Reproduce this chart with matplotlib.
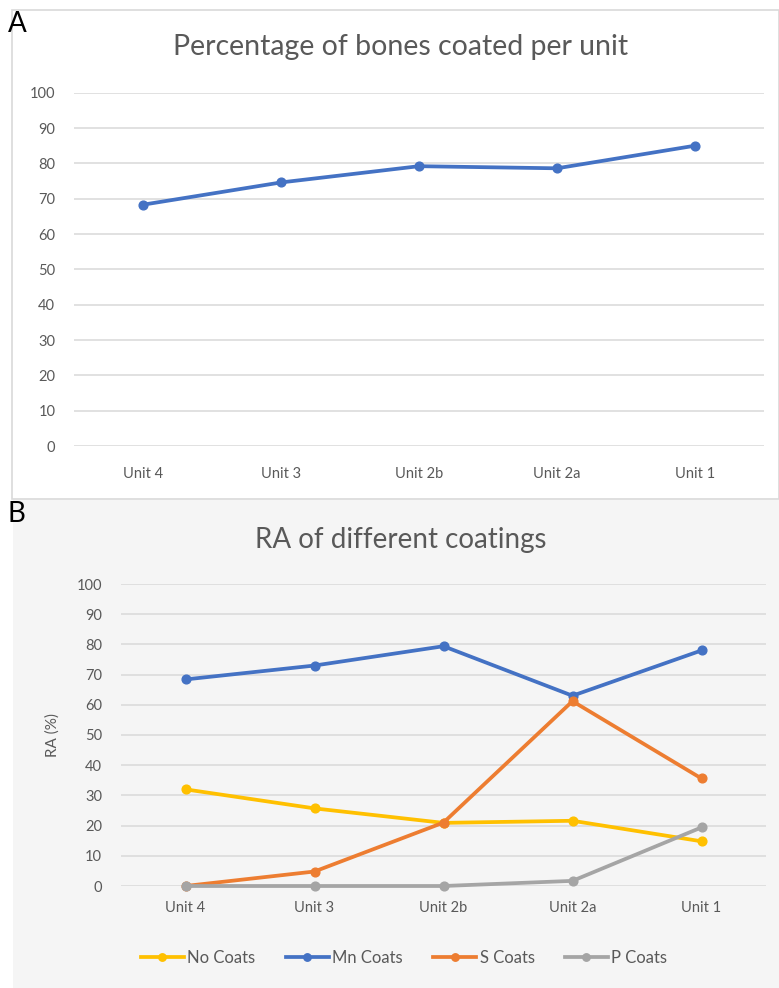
import matplotlib
matplotlib.use('Agg')
import matplotlib.pyplot as plt
from matplotlib.patches import Rectangle

# data
units = ['Unit 4', 'Unit 3', 'Unit 2b', 'Unit 2a', 'Unit 1']
coated = [68.3, 74.6, 79.2, 78.6, 85.0]

no_coats = [32.0, 25.7, 20.9, 21.6, 14.8]
mn_coats = [68.4, 73.0, 79.4, 63.0, 78.0]
s_coats = [0.0, 4.8, 21.0, 61.2, 35.6]
p_coats = [0.0, 0.0, 0.0, 1.7, 19.4]

W, H = 779, 988
plt.rcParams['font.family'] = ['Lato', 'DejaVu Sans']
txt = '#595959'
grid = '#d9d9d9'
LW, MS = 2.7, 6.3

fig = plt.figure(figsize=(W / 100, H / 100), dpi=100)
fig.patch.set_facecolor('white')

def px(x0, y0, x1, y1):
    # pixel box (top-left origin) -> figure fraction
    return [x0 / W, 1 - y1 / H, (x1 - x0) / W, (y1 - y0) / H]

# panel frames
fig.patches.append(Rectangle((12 / W, 1 - 499 / H), (W - 12) / W, 489 / H,
                             transform=fig.transFigure, facecolor='white',
                             edgecolor=grid, lw=1.2, zorder=-5))
fig.patches.append(Rectangle((13 / W, 0), (W - 13) / W, 1 - 500 / H,
                             transform=fig.transFigure, facecolor='#f5f5f5',
                             edgecolor='none', zorder=-5))

def style(ax, xpad):
    ax.set_zorder(2)
    ax.set_facecolor('none')
    ax.set_xlim(-0.5, 4.5)
    ax.set_ylim(0, 100)
    ax.set_yticks(range(0, 101, 10))
    ax.set_xticks(range(len(units)))
    ax.set_xticklabels(units)
    for s in ax.spines.values():
        s.set_visible(False)
    ax.grid(axis='y', color=grid, lw=1.1)
    ax.set_axisbelow(True)
    ax.tick_params(length=0, colors=txt, labelsize=10.5)
    ax.tick_params(axis='x', pad=xpad)
    ax.tick_params(axis='y', pad=13.5)

# A
axA = fig.add_axes(px(74, 92.7, 764, 446))
style(axA, 15)
axA.plot(range(len(units)), coated, color='#4472C4', lw=LW, marker='o', ms=MS,
         clip_on=False)
fig.text(401 / W, 1 - 47 / H, 'Percentage of bones coated per unit', ha='center',
         va='center', fontsize=20.5, color=txt)
fig.text(8 / W, 1 - 24 / H, 'A', ha='left', va='center', fontsize=20, color='black')

# B
axB = fig.add_axes(px(121, 584, 766, 886))
style(axB, 10.5)
x = range(len(units))
axB.plot(x, no_coats, color='#FFC000', lw=LW, marker='o', ms=MS, label='No Coats', clip_on=False)
axB.plot(x, mn_coats, color='#4472C4', lw=LW, marker='o', ms=MS, label='Mn Coats', clip_on=False)
axB.plot(x, s_coats, color='#ED7D31', lw=LW, marker='o', ms=MS, label='S Coats', clip_on=False)
axB.plot(x, p_coats, color='#A5A5A5', lw=LW, marker='o', ms=MS, label='P Coats', clip_on=False)
axB.set_ylabel('RA (%)', color=txt, fontsize=11, labelpad=12)
fig.text(401 / W, 1 - 540 / H, 'RA of different coatings', ha='center',
         va='center', fontsize=20, color=txt)
fig.text(8 / W, 1 - 514 / H, 'B', ha='left', va='center', fontsize=20, color='black')

leg = fig.legend(loc='center', bbox_to_anchor=(404 / W, 1 - 958 / H), ncol=4,
                 frameon=False, fontsize=12, handlelength=2.6, handletextpad=0.2,
                 columnspacing=1.8, markerscale=0.85)
for t in leg.get_texts():
    t.set_color(txt)

fig.savefig('out.png', dpi=100)
